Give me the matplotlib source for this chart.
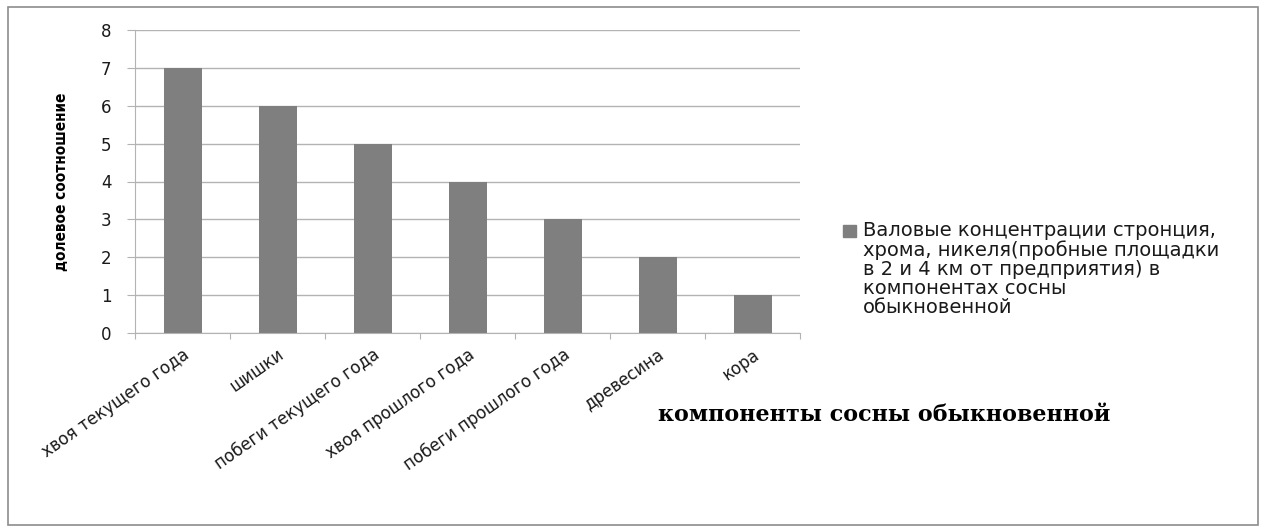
import matplotlib
matplotlib.use("Agg")
from matplotlib import pyplot as plt
from matplotlib.patches import Rectangle

categories = ["хвоя текущего года", "шишки", "побеги текущего года",
              "хвоя прошлого года", "побеги прошлого года", "древесина", "кора"]
values = [7, 6, 5, 4, 3, 2, 1]
series_name = ("Валовые концентрации стронция,\nхрома, никеля(пробные площадки\n"
               "в 2 и 4 км от предприятия) в\nкомпонентах сосны\nобыкновенной")

plt.rcParams['font.family'] = ['DejaVu Sans']

W, H = 1266, 532
fig = plt.figure(figsize=(W / 100, H / 100), dpi=100)
ax = fig.add_axes([135 / W, 1 - 333 / H, 665 / W, 303 / H])

bar_color = '#7f7f7f'
grid_color = '#b3b3b3'
text_color = '#1a1a1a'

x = range(len(categories))
ax.bar(x, values, width=0.4, color=bar_color, zorder=2)

ax.set_xlim(-0.5, len(categories) - 0.5)
ax.set_ylim(0, 8)
ax.set_yticks(range(9))
ax.yaxis.grid(True, color=grid_color, linewidth=1, zorder=0)
# major ticks on category borders, labels on minor ticks at bar centres
ax.set_xticks([i - 0.5 for i in range(len(categories) + 1)])
ax.set_xticklabels([])
ax.set_xticks(list(x), minor=True)
ax.set_xticklabels(categories, minor=True, rotation=35, ha='right',
                   rotation_mode='anchor', fontsize=12, color=text_color)
ax.tick_params(axis='x', which='major', length=4, color=grid_color)
ax.tick_params(axis='x', which='minor', length=0, pad=9)
ax.tick_params(axis='y', length=6, color=grid_color, labelsize=12,
               labelcolor=text_color, pad=11)

for s in ['top', 'right']:
    ax.spines[s].set_visible(False)
ax.spines['left'].set_color(grid_color)
ax.spines['bottom'].set_color(grid_color)

fig.text(61 / W, 1 - 182 / H, "долевое соотношение", rotation=90,
         ha='center', va='center', fontsize=11, fontweight='bold',
         color='black', stretch='condensed')
fig.text(884 / W, 1 - 415 / H, "компоненты сосны обыкновенной",
         ha='center', va='center', fontsize=16, fontweight='bold', color='black',
         family=['DejaVu Serif'])

# legend
fig.patches.append(Rectangle((843 / W, 1 - 237 / H), 13 / W, 12 / H,
                             transform=fig.transFigure, color=bar_color))
fig.text(863 / W, 1 - 221 / H, series_name, ha='left', va='top',
         fontsize=14, linespacing=1.0, color=text_color)

fig.patches.append(Rectangle((8 / W, 7 / H), 1250 / W, 518 / H,
                             transform=fig.transFigure, fill=False,
                             edgecolor='#8c8c8c', linewidth=1.2))

fig.savefig("out.png", dpi=100)
